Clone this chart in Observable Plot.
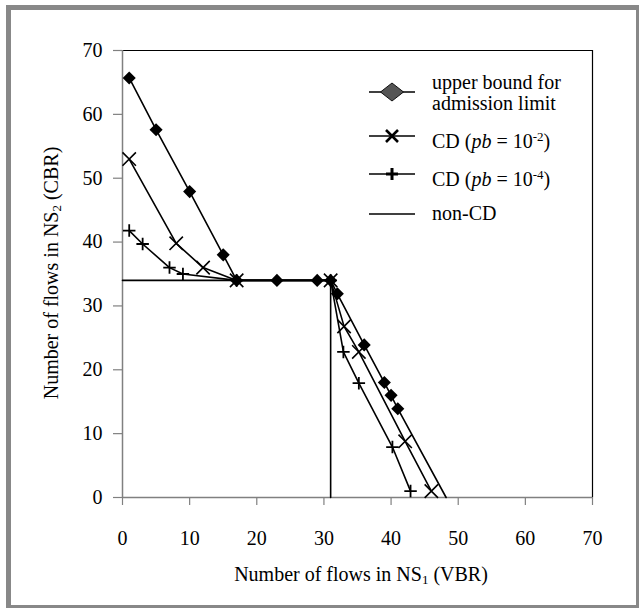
<!DOCTYPE html>
<html>
<head>
<meta charset="utf-8">
<script src="https://cdn.jsdelivr.net/npm/d3@7"></script>
<script src="https://cdn.jsdelivr.net/npm/@observablehq/plot@0.6"></script>
<style>
  body { margin: 0; background: #fff; }
  #wrap { position: relative; width: 639px; height: 608px; overflow: hidden; background: #fff;
          font-family: "Liberation Serif", "Times New Roman", serif; color: #000; }
  #border { position: absolute; left: 6px; top: 5px; width: 635px; height: 605px;
            box-sizing: border-box; border: 5px solid #888; pointer-events: none; }
  #chart { position: absolute; left: 0; top: 0; }
  .title { position: absolute; font-size: 20px; white-space: nowrap; line-height: 1; }
  .title sub, .leg sub { font-size: 0.65em; vertical-align: -0.3em; }
  .leg sup { font-size: 0.65em; vertical-align: 0.55em; }
  .leg { position: absolute; font-size: 20px; line-height: 21px; white-space: nowrap; }
  .sym { position: absolute; }
</style>
</head>
<body>
<div id="wrap">
  <div id="chart"></div>
  <div class="title" id="xtitle" style="left:361px; top:575px; transform: translate(-50%,-50%);">Number of flows in NS<sub>1</sub> (VBR)</div>
  <div class="title" id="ytitle" style="left:52px; top:273px; transform: translate(-50%,-50%) rotate(-90deg);">Number of flows in NS<sub>2</sub> (CBR)</div>
  <div id="legend"></div>
  <div id="border"></div>
</div>
<script>
// ---- data ----
const xTicks = [0, 10, 20, 30, 40, 50, 60, 70];
const yTicks = [0, 10, 20, 30, 40, 50, 60, 70];

// upper bound for admission limit (last point: line end on the axis, no marker)
const ubX = [1, 5, 10, 15, 17, 23, 29, 31, 32, 36, 39, 40, 41, 48.2];
const ubY = [65.7, 57.6, 47.9, 38, 34, 34, 34, 34, 31.9, 23.9, 18, 16, 13.9, 0];
const ubMarker = [true, true, true, true, true, true, true, true, true, true, true, true, true, false];

// CD (pb = 10^-2)
const cd2X = [1, 8, 12, 17, 31, 33, 35.2, 42.1, 46];
const cd2Y = [53, 39.8, 36, 34, 34, 26.8, 22.8, 8.8, 1];

// CD (pb = 10^-4)
const cd4X = [1, 3, 7, 9, 17, 31, 32.9, 35.2, 40.2, 42.9];
const cd4Y = [41.8, 39.7, 36, 35, 34, 34, 22.8, 17.9, 7.9, 1];

// non-CD
const ncX = [0, 31, 31];
const ncY = [34, 34, 0];

const legendLabels = ["upper bound for<br>admission limit",
  "CD (<i>pb</i> = 10<sup>-2</sup>)",
  "CD (<i>pb</i> = 10<sup>-4</sup>)",
  "non-CD"];

// ---- build tables ----
const toRows = (xs, ys) => xs.map((x, i) => ({x, y: ys[i]}));
const ub = ubX.map((x, i) => ({x, y: ubY[i], m: ubMarker[i]}));
const cd2 = toRows(cd2X, cd2Y);
const cd4 = toRows(cd4X, cd4Y);
const nc = toRows(ncX, ncY);

const axisGray = "#808080";

const plot = Plot.plot({
  width: 639,
  height: 608,
  marginLeft: 122,
  marginRight: 47,
  marginTop: 50,
  marginBottom: 111,
  x: {domain: [0, 70], ticks: xTicks, label: null},
  y: {domain: [0, 70], ticks: yTicks, label: null},
  style: {fontFamily: "Liberation Serif, Times New Roman, serif", fontSize: "20px", background: "transparent", color: "black"},
  marks: [
    Plot.ruleY([70], {stroke: "black", strokeWidth: 1.2}),
    Plot.ruleX([70], {stroke: "black", strokeWidth: 1.2}),
    Plot.axisX({ticks: xTicks, tickSize: 8, text: null, stroke: axisGray, strokeWidth: 1.2}),
    Plot.axisX({ticks: xTicks, tickSize: 0, tickPadding: 33, tickFormat: d => String(d), fill: "black", fontSize: 20}),
    Plot.axisY({ticks: yTicks, tickSize: 9, text: null, stroke: axisGray, strokeWidth: 1.2}),
    Plot.axisY({ticks: yTicks, tickSize: 0, tickPadding: 20, tickFormat: d => String(d), fill: "black", fontSize: 20}),
    Plot.ruleY([0], {stroke: axisGray, strokeWidth: 1.5}),
    Plot.ruleX([0], {stroke: axisGray, strokeWidth: 1.5}),
    Plot.line(nc, {x: "x", y: "y", stroke: "black", strokeWidth: 1.6}),
    Plot.line(cd4, {x: "x", y: "y", stroke: "black", strokeWidth: 1.6}),
    Plot.line(cd2, {x: "x", y: "y", stroke: "black", strokeWidth: 1.6}),
    Plot.line(ub, {x: "x", y: "y", stroke: "black", strokeWidth: 1.6}),
    Plot.dot(ub.filter(d => d.m), {x: "x", y: "y", symbol: "diamond2", r: 5.9, fill: "black", stroke: "none"}),
    Plot.dot(cd2, {x: "x", y: "y", symbol: "times", r: 6.15, fill: "none", stroke: "black", strokeWidth: 1.6}),
    Plot.dot(cd4, {x: "x", y: "y", symbol: "plus", r: 4.1, fill: "none", stroke: "black", strokeWidth: 1.8})
  ]
});
document.getElementById("chart").appendChild(plot);

// ---- legend (HTML overlay) ----
const legend = document.getElementById("legend");
const symY = [92, 136, 174, 214];
const textTop = [72, 126, 164, 203];
const symSvgs = [
  `<line x1="0" y1="12" x2="46" y2="12" stroke="black" stroke-width="1.6"/>
   <path d="M23,3 L34.5,12 L23,21 L11.5,12 Z" fill="#555" stroke="#111" stroke-width="1"/>`,
  `<line x1="0" y1="12" x2="46" y2="12" stroke="black" stroke-width="1.6"/>
   <path d="M17,6 L29,18 M29,6 L17,18" stroke="black" stroke-width="2.6" fill="none"/>`,
  `<line x1="0" y1="12" x2="46" y2="12" stroke="black" stroke-width="1.6"/>
   <path d="M23,6 L23,18 M17,12 L29,12" stroke="black" stroke-width="3" fill="none"/>`,
  `<line x1="0" y1="12" x2="46" y2="12" stroke="black" stroke-width="1.6"/>`
];
legendLabels.forEach((lab, i) => {
  const s = document.createElement("div");
  s.className = "sym";
  s.style.left = "369px";
  s.style.top = (symY[i] - 12) + "px";
  s.innerHTML = `<svg width="46" height="24">${symSvgs[i]}</svg>`;
  legend.appendChild(s);
  const t = document.createElement("div");
  t.className = "leg";
  t.style.left = "432px";
  t.style.top = textTop[i] + "px";
  t.innerHTML = lab;
  legend.appendChild(t);
});
</script>
</body>
</html>
